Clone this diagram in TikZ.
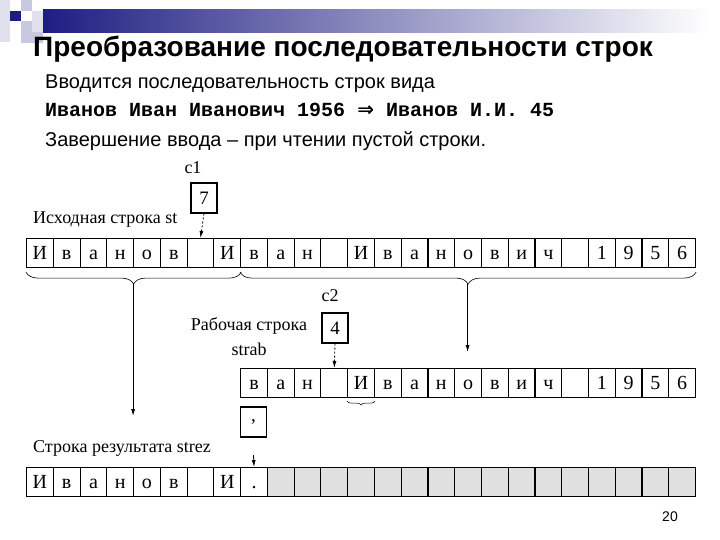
\documentclass[tikz,border=0pt]{standalone}
\usepackage{fontspec}
\setmainfont{Liberation Serif}
\newfontfamily\sansf{Liberation Sans}
\newfontfamily\monof{Liberation Mono}
\newfontfamily\arrf{DejaVu Sans}
\usetikzlibrary{decorations.pathreplacing,arrows.meta}
\definecolor{hdrblue}{RGB}{30,30,130}
\definecolor{hdrlight}{RGB}{200,200,225}
\definecolor{hdrlight2}{RGB}{225,225,238}
\definecolor{cellgray}{RGB}{224,224,224}
\begin{document}
\begin{tikzpicture}[x=1pt,y=-1pt,
  cell/.style={draw,line width=1.1pt,minimum width=26.76pt,minimum height=29pt,inner sep=0pt,
    anchor=north west,font=\fontsize{20}{20}\selectfont,text height=13pt,text depth=0pt},
  valbox/.style={draw,line width=1.1pt,minimum width=26pt,minimum height=30pt,inner sep=0pt,
    font=\fontsize{19}{19}\selectfont},
  lbl/.style={font=\fontsize{18}{18}\selectfont,inner sep=0pt},
  bracedn/.style={decorate,decoration={brace,mirror,amplitude=#1},line width=0.6pt},
  arr/.style={-{Latex[length=7pt,width=4pt]},line width=0.8pt},
  darr/.style={-{Latex[length=7pt,width=4pt]},line width=0.8pt,dashed,dash pattern=on 2pt off 2pt},
  hdr/.style={font=\sansf\fontsize{20}{20}\selectfont,anchor=base west,inner sep=0pt}]
\useasboundingbox (0,0) rectangle (720,540);
% header decoration
\fill[hdrlight2] (0,0) rectangle (10,42);
\fill[hdrlight] (21,0) rectangle (32,11);
\fill[hdrlight] (21,21) rectangle (43,43);
\fill[hdrlight2] (32,11) rectangle (43,32);
\fill[hdrblue] (10,11) rectangle (21,21);
\shade[left color=hdrblue,right color=white] (43,10) rectangle (710,33);
% title and text
\node[anchor=base west,inner sep=0pt,font=\sansf\bfseries\fontsize{28}{28}\selectfont] (title) at (33,57) {Преобразование последовательности строк};
\node[hdr] (l1) at (45,89) {Вводится последовательность строк вида};
\node[anchor=base west,inner sep=0pt,font=\monof\bfseries\fontsize{20}{20}\selectfont] (l2) at (45,117) {Иванов Иван Иванович 1956 {\arrf\bfseries ⇒} Иванов И.И. 45};
\node[hdr] (l3) at (45,147) {Завершение ввода – при чтении пустой строки.};
% source string
\foreach \c [count=\i from 0] in {И,в,а,н,о,в,{},И,в,а,н,{},И,в,а,н,о,в,и,ч,{},1,9,5,6}
  \node[cell] (s\i) at ({26+\i*26.76},238) {\c};
\node[lbl,anchor=west] (lst) at (33,220) {Исходная строка st};
\node[valbox] (c1box) at (204,198) {7};
\node[lbl] (c1) at (193,168) {c1};
\draw[darr] (c1box.south) -- (s6.north);
% braces
\draw[bracedn=12pt] ([yshift=-4pt]s0.south west) -- ([yshift=-4pt]s7.south east);
\draw[bracedn=12pt] ([yshift=-4pt]s8.south west) -- ([yshift=-4pt]s24.south east);
\coordinate (b1) at (133.1,284);
\coordinate (b2) at (467.6,284);
% working string
\foreach \c [count=\i from 0] in {в,а,н,{},И,в,а,н,о,в,и,ч,{},1,9,5,6}
  \node[cell] (r\i) at ({240.08+\i*26.76},368) {\c};
\node[lbl,align=center,font=\fontsize{18}{25}\selectfont] (lrab) at (249,337) {Рабочая строка\\strab};
\node[valbox] (c2box) at (335,328) {4};
\node[lbl] (c2) at (330,296) {c2};
\draw[darr] (c2box.south) -- (r3.north);
\draw[bracedn=4pt,line width=0.5pt] ([yshift=-3pt]r4.south west) -- ([yshift=-3pt]r4.south east);
\node[valbox,minimum width=26.76pt] (cbox) at (253.5,422) {,};
% result string
\foreach \c [count=\i from 0] in {И,в,а,н,о,в,{},И,.}
  \node[cell] (z\i) at ({26+\i*26.76},467) {\c};
\foreach \i in {9,...,24}
  \node[cell,fill=cellgray] (z\i) at ({26+\i*26.76},467) {};
\node[lbl,anchor=west] (lrez) at (33,448) {Строка результата strez};
% arrows
\coordinate (e1) at (133.1,416);
\draw[arr] (b1) -- (e1);
\coordinate (e2) at (467.6,352);
\draw[arr] (b2) -- (e2);
\coordinate (p3) at (253.5,455);
\draw[arr] (p3) -- (z8.north);
% page number
\node[font=\sansf\fontsize{14}{14}\selectfont] (pg) at (670,517) {20};
\end{tikzpicture}
\end{document}
